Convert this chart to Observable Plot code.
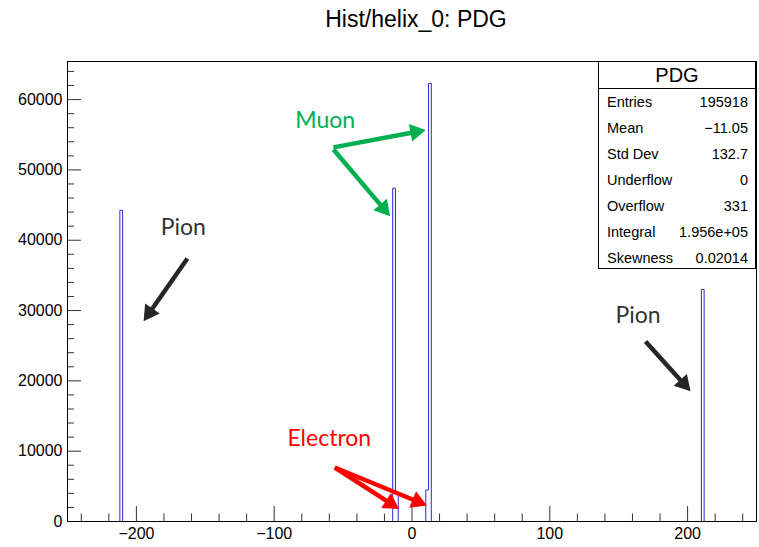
<!DOCTYPE html>
<html>
<head>
<meta charset="utf-8">
<script src="https://cdn.jsdelivr.net/npm/d3@7"></script>
<script src="https://cdn.jsdelivr.net/npm/@observablehq/plot@0.6"></script>
<style>
  html, body { margin: 0; padding: 0; background: #fff; }
  #wrap { position: relative; width: 759px; height: 547px; overflow: hidden; font-family: "Liberation Sans", Arial, sans-serif; }
  #title { position: absolute; left: 0; width: 832px; top: 6px; text-align: center; font-size: 23px; color: #000; }
  #stats { position: absolute; left: 598px; top: 61px; width: 158px; height: 208px; border: 1px solid #000; background: #fff; box-sizing: border-box; }
  #stats .hd { height: 26px; line-height: 26px; text-align: center; font-size: 20px; border-bottom: 1px solid #000; }
  #stats .row { height: 26px; line-height: 26px; display: flex; justify-content: space-between; padding: 0 7px 0 8px; font-size: 14.5px; }
  #plot { position: absolute; left: 0; top: 0; }
</style>
</head>
<body>
<div id="wrap">
  <div id="plot"></div>
  <div id="title"></div>
  <div id="stats"></div>
</div>
<script>
// ---- data ----
const pdgCodes = [-211, -13, -11, 11, 13, 211];
const binCounts = [44250, 47400, 4150, 4470, 62300, 33000];
const binLow = -250, binHigh = 250, binWidth = 2;
const xMajorTicks = [-200, -100, 0, 100, 200];
const yMajorTicks = [0, 10000, 20000, 30000, 40000, 50000, 60000];
const titleText = "Hist/helix_0: PDG";
const statsTitle = "PDG";
const statsLabels = ["Entries", "Mean", "Std Dev", "Underflow", "Overflow", "Integral", "Skewness"];
const statsValues = ["195918", "\u221211.05", "132.7", "0", "331", "1.956e+05", "0.02014"];
// annotations (data coordinates)
const labelTexts = ["Muon", "Pion", "Pion", "Electron"];
const labelX = [-63, -166, 164, -60];
const labelY = [57000, 41800, 29300, 11800];
const labelColors = ["#00b050", "#333333", "#333333", "#ff0000"];
const arrowX1 = [-57, -57, -163, 169.5, -56, -56];
const arrowY1 = [53200, 52900, 37400, 25600, 7680, 7680];
const arrowX2 = [12, -14.5, -196, 203.6, -7.6, 12.8];
const arrowY2 = [55750, 43100, 28150, 18200, 1560, 2130];
const arrowColors = ["#00b050", "#00b050", "#262626", "#262626", "#ff0000", "#ff0000"];

// ---- layout ----
const W = 759, H = 547, mt = 61, mb = 26, ml = 67, mr = 3;
const yMax = 1.05 * d3.max(binCounts);
const fw = W - ml - mr, fh = H - mt - mb;
const sx = d3.scaleLinear([binLow, binHigh], [ml, W - mr]);
const sy = d3.scaleLinear([0, yMax], [H - mb, mt]);

// histogram steps
const counts = new Map(pdgCodes.map((c, i) => [Math.floor((c - binLow) / binWidth), binCounts[i]]));
const nBins = Math.round((binHigh - binLow) / binWidth);
const steps = d3.range(nBins).map(i => ({x: binLow + i * binWidth, y: counts.get(i) || 0}));
steps.push({x: binHigh, y: 0});

// arrows: shaft + filled head
const headR = 8.5;
const tipDist = 2 * Math.sqrt(Math.PI * headR * headR / (3 * Math.sqrt(3)));
const shafts = [], heads = [];
arrowX1.forEach((_, i) => {
  const p1 = [sx(arrowX1[i]), sy(arrowY1[i])], p2 = [sx(arrowX2[i]), sy(arrowY2[i])];
  const dx = p2[0] - p1[0], dy = p2[1] - p1[1], L = Math.hypot(dx, dy);
  const ux = dx / L, uy = dy / L;
  const hc = [p2[0] - ux * tipDist, p2[1] - uy * tipDist];
  shafts.push({x1: arrowX1[i], y1: arrowY1[i], x2: sx.invert(hc[0]), y2: sy.invert(hc[1]), c: arrowColors[i]});
  heads.push({x: sx.invert(hc[0]), y: sy.invert(hc[1]), c: arrowColors[i], rot: Math.atan2(uy, ux) * 180 / Math.PI + 90});
});
const labels = labelTexts.map((t, i) => ({t, x: labelX[i], y: labelY[i], c: labelColors[i]}));

const xMinor = d3.range(-240, 241, 20).filter(v => !xMajorTicks.includes(v));
const yMinor = d3.range(0, yMax, 2000).filter(v => !yMajorTicks.includes(v));

const chart = Plot.plot({
  width: W, height: H,
  marginTop: mt, marginBottom: mb, marginLeft: ml, marginRight: mr,
  style: {fontFamily: "'Liberation Sans', Arial, sans-serif", fontSize: "16px", color: "#000", background: "transparent"},
  x: {domain: [binLow, binHigh]},
  y: {domain: [0, yMax]},
  marks: [
    Plot.ruleX(xMajorTicks, {x: d => d, insetTop: fh - 15, stroke: "#333"}),
    Plot.ruleX(xMinor, {x: d => d, insetTop: fh - 7.5, stroke: "#333"}),
    Plot.ruleY(yMajorTicks, {y: d => d, insetRight: fw - 14, stroke: "#333"}),
    Plot.ruleY(yMinor, {y: d => d, insetRight: fw - 7, stroke: "#333"}),
    Plot.axisX({ticks: xMajorTicks, tickSize: 0, tickPadding: 6, fontSize: 16}),
    Plot.axisY({ticks: yMajorTicks, tickSize: 0, tickPadding: 5, fontSize: 16, tickFormat: d3.format("d")}),
    Plot.line(steps, {x: "x", y: "y", curve: "step-after", stroke: "#2a2acc", strokeWidth: 1}),
    Plot.frame({stroke: "#000"}),
    Plot.link(shafts, {x1: "x1", y1: "y1", x2: "x2", y2: "y2", stroke: "c", strokeWidth: 4.5}),
    Plot.dot(heads, {x: "x", y: "y", fill: "c", symbol: "triangle2", r: headR, rotate: "rot"}),
    Plot.text(labels, {x: "x", y: "y", text: "t", fill: "c", fontSize: 23, fontFamily: "Lato, 'Open Sans', sans-serif"})
  ]
});
document.getElementById("plot").appendChild(chart);
document.getElementById("title").textContent = titleText;
const st = document.getElementById("stats");
st.innerHTML = `<div class="hd">${statsTitle}</div>` +
  statsLabels.map((l, i) => `<div class="row"><span>${l}</span><span>${statsValues[i]}</span></div>`).join("");
</script>
</body>
</html>
